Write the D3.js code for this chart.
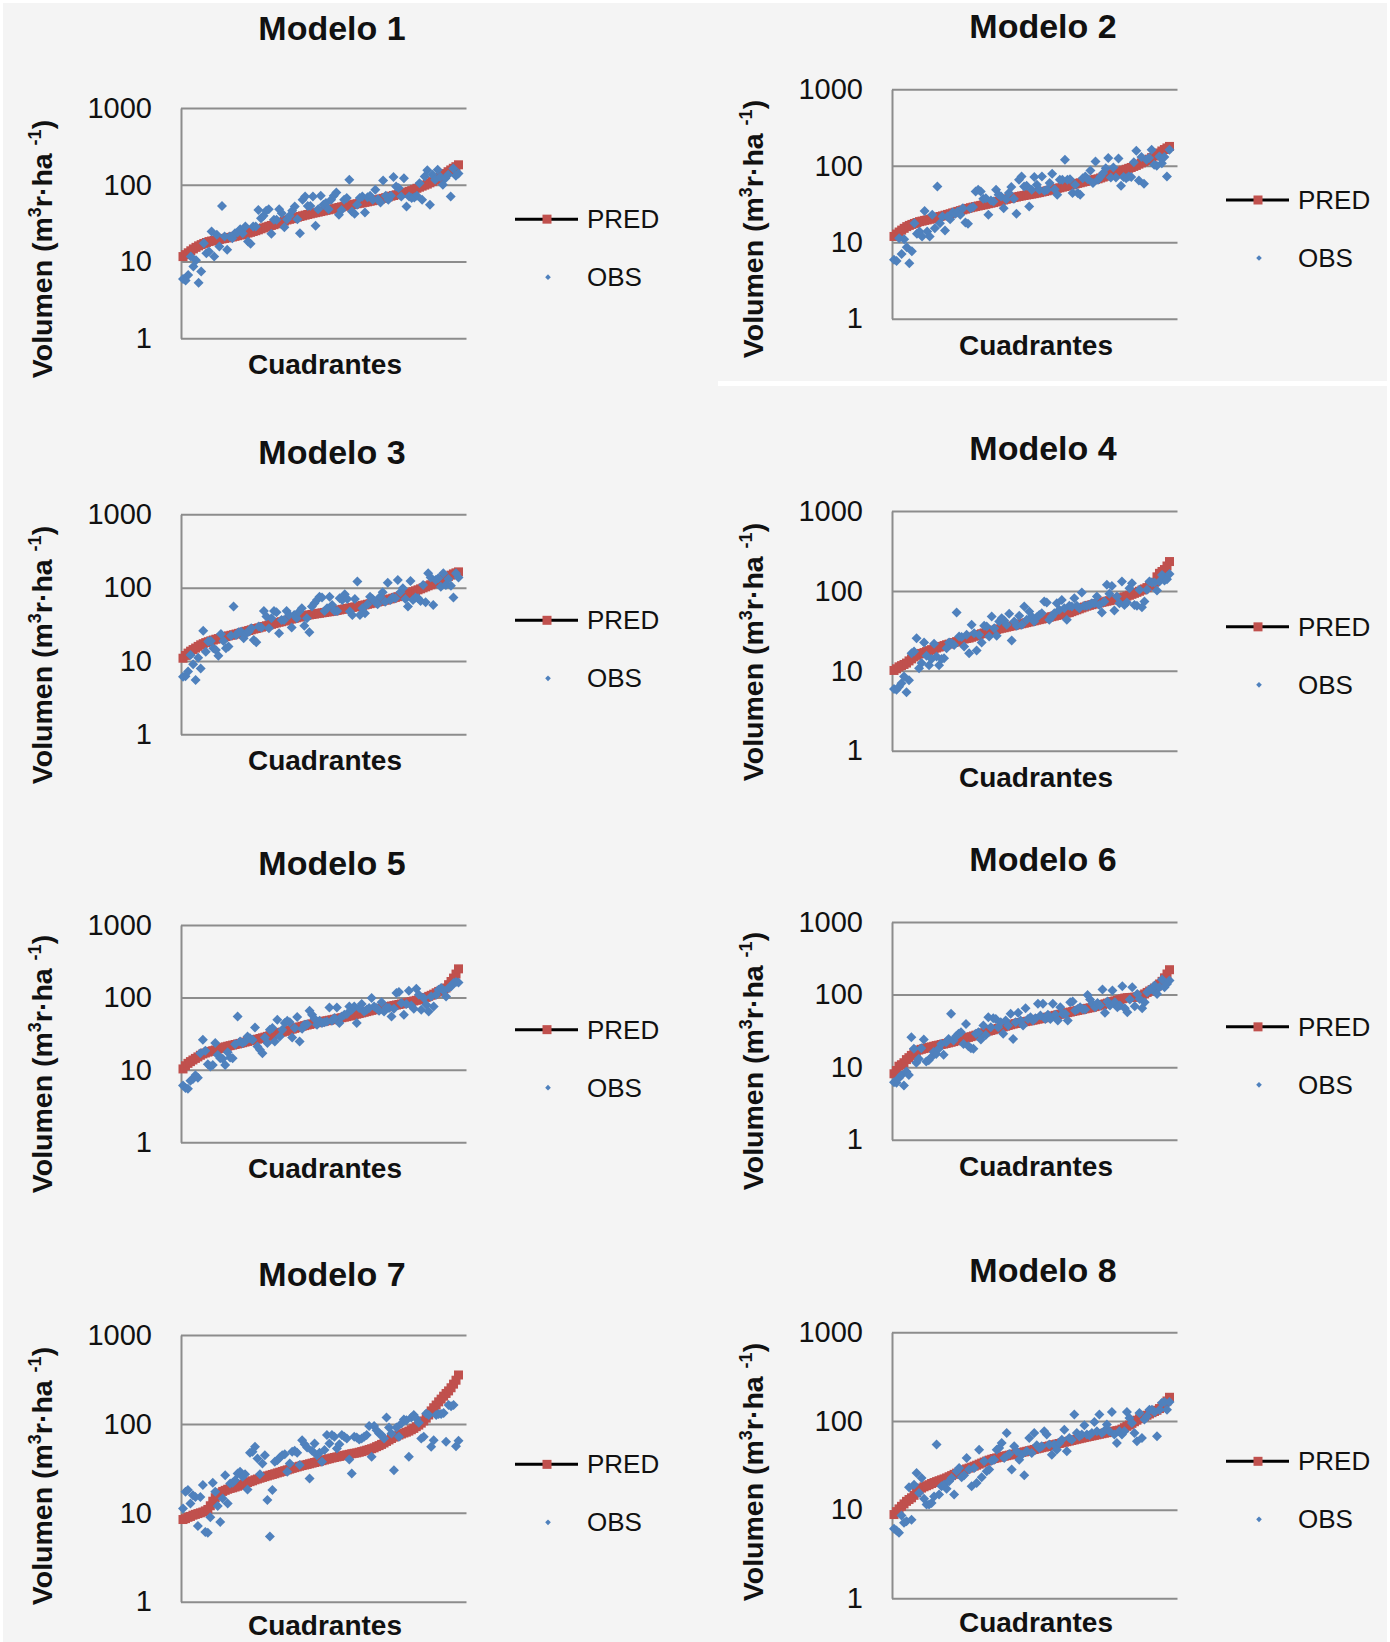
<!DOCTYPE html>
<html>
<head>
<meta charset="utf-8">
<script src="https://cdn.jsdelivr.net/npm/d3@7"></script>
<style>
  body { margin: 0; background: #f4f4f4; }
  svg { display: block; }
  text { font-family: "Liberation Sans", Arial, sans-serif; fill: #111; }
</style>
</head>
<body>
<svg id="chart" width="1390" height="1642"></svg>
<script>
// textos
const titles = ["Modelo 1", "Modelo 2", "Modelo 3", "Modelo 4", "Modelo 5", "Modelo 6", "Modelo 7", "Modelo 8"];
const yTicks = [1, 10, 100, 1000];
const seriesNames = ["PRED", "OBS"];
const xTitle = "Cuadrantes";

// valores (m3r/ha)
const pred1 = [11.6,12.3,13.0,13.8,14.6,15.3,16.0,16.6,17.2,17.7,18.2,18.5,18.8,19.1,19.4,19.7,20.0,20.3,20.6,20.9,21.3,21.7,22.1,22.5,23.0,23.5,24.0,24.6,25.2,25.9,26.7,27.4,28.1,28.8,29.5,30.2,31.0,31.8,32.6,33.6,34.8,35.5,36.2,37.0,37.8,38.6,39.4,40.2,41.0,41.8,42.6,43.3,44.0,44.8,45.6,46.4,47.2,48.0,48.8,49.7,50.6,51.5,52.4,53.3,54.2,55.0,55.8,56.6,57.4,58.2,59,60,61,62,63,64,65.2,66.5,68,69.5,71,72.5,74,75.5,77,78.5,80,82,84,87,90,93,96,99,102,106,110,115,120,126,132,140,148,156,164,172,182];
const obs1 = [5.9,5.65,6.7,11.6,8.6,10.4,5.3,7.4,17.3,12.8,13.5,24.6,11.6,22.3,15.7,53,21.2,14.2,21.2,20.1,23.4,23.9,26.4,23.4,28.6,18.2,17.0,28.6,28.6,47,36.7,39.4,46,48,23,34.9,34.9,48,42.7,28,35.6,39.4,46,52,35.6,23.4,63.7,70.4,53,53,70.4,29.2,48,71.9,54.8,58,48,63.7,71.9,79.4,40.6,47,63.7,67,116,44.9,41.9,54.8,67,70.4,43.5,69,71.9,63.7,86,65,58.9,114,71.9,63.7,71.9,126,95,90.5,70.4,122,52,70.4,67,68,71.9,105,63.7,128,154,55,135,116,157,126,100,122,135,70.4,163,131,140];

const pred2 = [11.9,12.8,13.6,14.4,15.2,16.0,16.6,17.1,17.6,18.1,18.6,18.9,19.3,19.6,20.0,20.3,20.8,21.2,21.7,22.1,22.6,23.1,23.6,24.2,24.7,25.3,25.9,26.5,27.1,27.7,28.3,28.8,29.3,29.8,30.3,30.8,31.3,31.9,32.4,33.0,33.6,34.3,35.0,35.7,36.4,37.2,37.8,38.4,39.0,39.7,40.3,40.9,41.5,42.0,42.6,43.2,43.9,44.6,45.4,46.2,47.0,47.9,48.8,49.7,50.6,51.5,52.5,53.5,54.5,55.5,56.6,57.7,58.8,59.9,61.1,62.3,63.3,64.3,65.4,66.4,67.5,69.3,71.1,73.0,75.0,77.0,79.0,81.0,83.1,85.3,87.5,90,92.5,95,98,101,105,109,113,117,122,128,134,140,147,156,163,171,179];
const obs2 = [5.9,5.7,11.3,7.0,10.9,8.6,5.3,7.6,17.7,12.9,13.8,11.9,25.7,13.8,11.9,22.8,15.2,53.6,17.7,21.7,14.2,21.7,20,24.5,23.5,25.2,22.8,27.9,18.1,17.4,27.9,28.8,46.1,48.5,46.1,37,37.7,22.8,35.2,34.1,48.5,41.7,39.6,27.9,36.6,43.9,52.6,37,23.5,65.6,72.5,53.6,54.7,29.3,48.5,71.1,56.4,48.5,72.5,47,48.5,59.3,78.5,49.4,41.7,65.6,65.6,120,65.6,66.8,43.9,56.4,43.9,41.7,68.9,72.5,66.8,86.9,59.3,114,65.6,72.5,80.2,93,126,70.3,95,70.3,124,54.7,71.1,68.9,72.5,71.1,111,157,64.3,130,58,120,126,162,103,100,132,108,130,72.5,162];

const pred3 = [10.9,11.9,12.8,13.6,14.3,15.0,15.8,16.6,17.2,17.8,18.3,18.8,19.3,19.8,20.2,20.6,21.0,21.5,22.0,22.4,22.8,23.3,23.8,24.3,24.8,25.4,26.0,26.6,27.2,27.7,28.3,28.9,29.5,30.2,30.9,31.6,32.3,33.0,33.7,34.3,35.0,35.7,36.5,37.3,38.0,38.8,39.6,40.4,41.2,41.8,42.5,43.1,43.6,44.2,44.7,45.3,45.9,46.5,47.0,47.6,48.2,48.9,49.7,50.5,51.3,52.1,52.9,53.7,54.6,55.4,56.2,57.2,58.2,59.3,60.4,61.5,62.6,63.8,65.0,66.1,67.3,68.7,70.2,71.8,73.5,75.3,77.2,79.2,81.2,83.3,85.4,88,90.6,93.4,96.3,99.3,102.5,106,109.5,113,117,122,127,132,137,142,148,154,159,164];
const obs3 = [6.1,6.2,7.2,12.1,9.0,5.5,11.1,7.9,25.9,13.4,18.4,18.7,14.9,14.1,11.8,23.3,18.7,14.9,15.7,22.1,55.1,22.6,24.6,25.1,20.4,23.8,25.1,27.9,19.3,18,29.4,28.5,48.1,40.3,27.9,38.2,48.1,46.1,23.8,36.2,36.2,48.1,42.4,28.5,42.4,38.2,47.1,52.3,30.3,38.2,24.6,55.1,61.1,67.9,75.4,73.1,48.1,52.3,75.4,58,48.1,48.1,71.6,67.9,81.1,70,47.1,42.4,70,121,42.4,52.3,44.7,59.3,75.4,70,64.4,59.3,75.4,86.3,64.4,117,67.9,73.1,71.6,127,86.3,97.9,70,55.1,123,67.9,73.1,71.6,65.8,109,63.1,157,137,58,127,134,103,157,109,131,106,73.1,157,137];

const pred4 = [10.1,10.6,11.2,11.6,12.0,12.5,13.3,14.1,14.9,15.6,16.2,16.5,16.9,17.4,17.9,18.4,18.9,19.3,19.8,20.2,20.7,21.2,21.6,22.1,22.6,23.2,23.8,24.4,25.0,25.4,25.7,26.3,27.0,27.7,28.4,29.1,29.8,30.5,31.2,31.8,32.3,32.9,33.5,34.1,34.6,35.2,35.8,36.4,37.0,37.6,38.2,38.8,39.4,40.1,40.8,41.5,42.2,43.0,43.7,44.4,45.2,46.0,46.8,47.6,48.4,49.3,50.2,51.1,52.0,52.8,53.5,55.0,56.5,58.0,59.6,61.2,62.8,64.4,65.9,67.2,68.5,69.6,70.7,71.9,73.1,74.3,75.5,76.7,78.0,79.3,80.6,82.2,84.0,86.0,88.2,90.6,93.2,96.0,99.0,102.5,106,110,115,120,128,150,166,175,185,205,233];
const obs4 = [5.9,5.8,6.3,7.0,8.5,5.4,7.6,16.6,17.4,25.6,10.8,12.5,22.6,15.4,11.7,14.0,21.8,15.1,11.7,14.0,14.4,19.2,22.6,22.2,21.1,53.6,26.9,26.4,20.1,28.2,16.6,37.6,29.6,18,28.2,22.6,36.5,35.8,26.9,47.8,34.1,27.4,41.4,45.5,42.6,37.6,51.6,23.9,41.4,36.5,48.7,37.6,63.7,43.4,55.2,47.8,41.4,46.9,50.1,52.6,73.6,71.5,43.4,47.8,52.6,70.1,57.9,77.2,60.7,43.4,65,63.7,81,65,60.7,95.3,65,65,66.8,70.1,70.1,84.9,66.8,53.6,73.6,119,91.8,115,56.7,84.9,70.1,131,66.8,71.5,108,125,66.8,65,103,62.5,73.6,103,131,127,127,101,131,158,135,140,163];

const pred5 = [10.3,11.4,12.3,13.0,13.7,14.4,15.1,15.9,16.6,17.1,17.6,18.0,18.4,18.8,19.3,19.8,20.3,20.8,21.2,21.6,22.0,22.4,22.8,23.2,23.7,24.2,24.7,25.2,25.7,26.1,26.5,27.1,27.7,28.3,29.0,29.7,30.5,31.3,32.2,32.7,33.2,34.0,34.8,35.6,36.5,37.4,38.3,39.2,40.0,40.8,41.6,42.4,43.2,44.0,44.8,45.6,46.3,47.0,47.7,48.4,49.2,50.0,50.8,51.6,52.5,53.4,54.3,55.3,56.4,57.5,58.7,59.9,61.1,62.4,63.7,65.0,66.3,67.6,68.9,70.0,71.1,72.4,73.7,74.9,76.1,77.3,78.6,79.9,81.3,82.7,84.2,85.8,87.5,89.3,91.2,93.1,95.2,97.5,100,103.5,107,111,116,121,125,129,135,150,166,185,210,248];
const obs5 = [6.1,5.6,5.5,7.1,7.5,8.4,7.8,17,26,18.3,12,11.1,11.7,23.4,16.1,14.5,14.2,11.7,17.5,14.8,14.5,22.6,54.6,24.7,23.4,24.7,28.9,27.4,26,38.5,21,18.9,17,28,23.4,35.7,37.7,24.7,49.1,28.9,35.7,44.2,47.5,45.6,28,37.7,53.5,24.7,36.9,41.9,42.8,65.5,57.5,50.7,41.9,47.5,44.2,45.6,46.6,72.8,47.5,51.8,72.8,44.2,54.6,57.5,58.9,75.2,67.5,75.2,44.2,71.3,80.9,64,67.5,71.3,97.9,75.2,71.3,65.5,86.1,64,72.8,71.3,54.6,69.7,115,119,83.5,57.5,80.9,124,77.5,69.7,132,109,67.5,97.9,79.3,64,103,75.2,109,128,135,124,103,135,142,158,163,161];

const pred6 = [8.1,9.0,10.3,10.8,11.5,12.7,13.5,14.5,15.6,16.5,17.2,17.6,18.0,18.3,18.7,19.0,19.4,19.8,20.1,20.5,20.8,21.2,21.6,22.0,22.5,23.0,23.5,24.1,24.6,25.2,25.7,26.3,26.9,27.6,28.3,29.0,29.8,30.6,31.4,32.0,32.7,33.5,34.2,35.0,35.8,36.6,37.5,38.4,39.2,39.9,40.6,41.2,41.8,42.4,43.0,43.6,44.3,45.0,45.8,46.5,47.3,48.1,49.0,49.9,50.8,51.7,52.6,53.5,54.5,55.4,56.4,57.4,58.4,59.4,60.4,61.4,62.5,63.6,64.6,65.7,66.8,68.2,69.7,71.2,72.8,74.5,76.3,78.2,80.1,81.8,83.5,85.5,87.5,89.5,90.5,91,91.5,92,93,95,98,102,107,112,117,123,130,140,152,170,192,220];
const obs6 = [6.2,6.1,7.1,7.7,5.6,8.7,7.8,25.9,17.9,11.5,13,18.2,24,12,12.4,13.7,16.1,15.2,17.9,20.9,14.8,22.1,24.5,54.2,23.3,26.7,28.8,30.3,20.9,39.4,19.4,18.2,17.9,28.8,30.3,24,37.4,27.8,48.8,35.5,47.2,46.2,35.5,41.6,28.8,43.9,37.4,54.2,24.5,41.6,56,43.9,37.4,64.9,46.2,48.8,43.9,47.2,74.5,51.4,74.5,46.2,52.5,46.2,74.5,52.5,43.9,67,54.2,54.2,43.9,78.3,80.1,60.3,63.5,67,63.5,62.2,98.9,85.3,74.5,67,76.7,70.6,117,56,80.1,70.6,114,78.3,67,70.6,130,64.9,57.1,85.3,126,69,102,87.1,64.9,78.3,108,117,117,133,102,126,161,126,140,156];

const pred7 = [8.4,8.6,8.9,9.1,9.4,9.6,9.8,10.0,10.2,10.5,10.9,12.0,13.5,14.8,15.8,16.7,17.4,17.9,18.4,18.8,19.1,19.5,19.9,20.4,20.9,21.4,21.9,22.4,22.9,23.5,24.0,24.5,25.0,25.5,26.0,26.5,27.0,27.5,28.1,28.6,29.2,29.8,30.4,31.0,31.6,32.2,32.8,33.4,34.0,34.5,35.0,35.6,36.2,36.8,37.4,38.0,38.6,39.3,40.0,40.6,41.3,41.9,42.5,43.1,43.7,44.3,44.9,45.5,46.2,46.7,47.2,48.0,48.8,49.7,50.6,51.6,52.6,53.8,55.5,57.0,58.8,61,63.5,66,68.5,71,73,75,77,79,80.7,83,86,89,93,97,102,108,116,126,140,152,163,177,190,205,220,235,255,280,310,355];
const obs7 = [11.2,17.2,18,12.7,15.8,15.1,7.1,15.1,20.5,6.1,5.96,8.9,21.8,17.2,11.9,7.9,14.5,26.5,12.7,21.4,21.8,23.3,27.7,28.9,25.4,27.2,18.3,47.3,48.5,55.2,40.8,27.2,35.9,44.5,13.9,5.4,18,37.5,39.1,41.9,44.5,45.7,28.9,35.9,48.5,49.8,47.3,34.4,65.6,59.2,54.3,24.3,49.8,60.2,44.5,47.3,37.5,50.7,74.8,60.2,74.8,71.6,52.9,59.2,74.8,71.6,68.6,39.8,27.7,71.6,70.3,66.8,68.6,71.6,74.8,94.4,42.7,94.4,85.1,78,74.8,68.6,118,91.2,78,30.2,91.2,71.6,101,112,110,42.7,118,126,115,103,68.6,71.6,131,126,55.2,65.6,126,129,129,133,62.9,163,158,163,56.2,64.6];

const pred8 = [8.8,9.5,10.2,10.9,11.6,12.4,13.0,13.6,14.5,15.6,16.8,17.5,18.1,18.6,19.1,19.7,20.2,20.7,21.2,21.7,22.2,22.8,23.5,24.2,25.0,25.8,26.6,27.4,28.1,28.8,29.4,30.1,30.9,31.7,32.6,33.5,34.4,35.3,36.2,37.0,37.7,38.3,38.9,39.5,40.0,40.6,41.2,41.8,42.4,43.0,43.6,44.2,44.8,45.5,46.2,46.9,47.7,48.5,49.2,50.0,50.7,51.5,52.3,53.1,54.0,54.9,55.7,56.6,57.5,58.4,59.3,60.2,61.2,62.2,63.1,64.0,65.0,65.9,66.9,67.8,68.8,69.8,70.8,71.8,72.8,73.8,74.8,75.8,76.8,77.8,78.8,81,84,87,90,94,98,102,106,109,112,116,120,124,128,132,138,146,155,168,185];
const obs8 = [6.1,5.8,5.5,8.6,7.1,7.4,17.9,7.7,19.1,25.9,15.4,22.8,13.3,11.4,11.4,11.9,14.1,54.1,14.8,18.3,19.1,17.2,20.9,22.8,14.8,27.1,29.5,23.2,24.4,38.3,28.3,18.3,29.5,20,47.5,23.2,35.1,27.1,28.3,35.7,36.6,47.5,49.6,56.5,38.3,73.3,42.5,28.3,51.8,45.5,36.6,41.7,24.4,45.5,64.3,43.6,73.3,53.2,49.6,51.8,76.4,70.2,54.1,41.7,54.1,47.5,56.5,61.5,79.8,45.5,64.3,61.5,118,73.3,67.1,70.2,89.3,70.2,68.9,73.3,97.5,76.4,118,73.3,77.8,91,76.4,126,70.2,56.5,76.4,70.2,76.4,126,108,94.9,73.3,59,123,64.3,104,113,134,134,126,67.1,134,160,164,134,164];

const predSeries = [pred1, pred2, pred3, pred4, pred5, pred6, pred7, pred8];
const obsSeries = [obs1, obs2, obs3, obs4, obs5, obs6, obs7, obs8];

// posicion de cada grafico en la pagina
const layout = [
  { left: 181, top: 108, bottom: 338.3, titleY: 28, labelY: 249, xLabelDy: 36 },
  { left: 892, top: 89.3, bottom: 318.7, titleY: 26, labelY: 229, xLabelDy: 36 },
  { left: 181, top: 514.3, bottom: 734.3, titleY: 452, labelY: 655, xLabelDy: 36 },
  { left: 892, top: 511, bottom: 750.7, titleY: 448, labelY: 652, xLabelDy: 36 },
  { left: 181, top: 925, bottom: 1142.3, titleY: 863, labelY: 1064, xLabelDy: 36 },
  { left: 892, top: 922, bottom: 1139.7, titleY: 859, labelY: 1061, xLabelDy: 36 },
  { left: 181, top: 1335, bottom: 1601.7, titleY: 1274, labelY: 1476, xLabelDy: 33 },
  { left: 892, top: 1332.3, bottom: 1598.3, titleY: 1270.5, labelY: 1472, xLabelDy: 34 }
];
const plotW = 285.5;
const RED = "#c0504d", BLUE = "#4f81bd", GRID = "#8c8c8c";

const svg = d3.select("#chart");

// franjas blancas entre las imagenes
svg.append("rect").attr("x", 0).attr("y", 0).attr("width", 1390).attr("height", 3).attr("fill", "#fff");
svg.append("rect").attr("x", 0).attr("y", 0).attr("width", 3).attr("height", 1642).attr("fill", "#fff");
svg.append("rect").attr("x", 1387).attr("y", 0).attr("width", 3).attr("height", 1642).attr("fill", "#fff");
svg.append("rect").attr("x", 718).attr("y", 381).attr("width", 672).attr("height", 5).attr("fill", "#fff");

const diamond = size => d3.symbol().type(d3.symbolSquare).size(size);

layout.forEach((p, k) => {
  const pred = predSeries[k];
  const obs = obsSeries[k];
  const n = Math.max(pred.length, obs.length);
  const g = svg.append("g");

  const x = d3.scaleLinear().domain([0, n - 1]).range([p.left + 2, p.left + plotW - 8]);
  const y = d3.scaleLog().domain([1, 1000]).range([p.bottom, p.top]);

  // lineas de cuadricula
  const grid = g.append("g")
    .attr("transform", `translate(${p.left},0)`)
    .call(d3.axisLeft(y).tickValues(yTicks).tickSize(-plotW).tickFormat(""));
  grid.select(".domain").remove();
  grid.selectAll(".tick line").attr("stroke", GRID).attr("stroke-width", 2);

  // eje y con etiquetas
  const ax = g.append("g")
    .attr("transform", `translate(${p.left},0)`)
    .call(d3.axisLeft(y).tickValues(yTicks).tickSize(0).tickPadding(29).tickFormat(d3.format("d")));
  ax.select(".domain").attr("stroke", GRID).attr("stroke-width", 2);
  ax.selectAll(".tick text")
    .style("font-family", '"Liberation Sans", Arial, sans-serif')
    .style("font-size", "29px").attr("fill", "#111");

  // PRED: linea negra con cuadros rojos
  g.append("path")
    .datum(pred)
    .attr("fill", "none")
    .attr("stroke", "#000")
    .attr("stroke-width", 2)
    .attr("d", d3.line().x((d, i) => x(i)).y(d => y(d)));

  g.selectAll(".pred")
    .data(pred)
    .join("rect")
    .attr("class", "pred")
    .attr("x", (d, i) => x(i) - 4.5)
    .attr("y", d => y(d) - 4.5)
    .attr("width", 9)
    .attr("height", 9)
    .attr("fill", RED);

  // OBS: rombos azules
  g.selectAll(".obs")
    .data(obs)
    .join("path")
    .attr("class", "obs")
    .attr("d", diamond(50))
    .attr("transform", (d, i) => `translate(${x(i)},${y(d)}) rotate(45)`)
    .attr("fill", BLUE);

  // titulo
  g.append("text")
    .attr("x", p.left + 151)
    .attr("y", p.titleY)
    .attr("dy", "0.35em")
    .attr("text-anchor", "middle")
    .style("font-size", "34px")
    .style("font-weight", "bold")
    .text(titles[k]);

  // titulo eje x
  g.append("text")
    .attr("x", p.left + 144)
    .attr("y", p.bottom + p.xLabelDy)
    .attr("text-anchor", "middle")
    .style("font-size", "28px")
    .style("font-weight", "bold")
    .text(xTitle);

  // titulo eje y
  const yl = g.append("text")
    .attr("transform", `translate(${p.left - 129},${p.labelY}) rotate(-90)`)
    .attr("text-anchor", "middle")
    .style("font-size", "28.5px")
    .style("font-weight", "bold");
  yl.append("tspan").text("Volumen (m");
  yl.append("tspan").attr("dy", -11).style("font-size", "18px").text("3");
  yl.append("tspan").attr("dy", 11).text("r·ha ");
  yl.append("tspan").attr("dy", -11).style("font-size", "18px").text("-1");
  yl.append("tspan").attr("dy", 11).text(")");

  // leyenda
  const mid = (p.top + p.bottom) / 2;
  const lx = p.left + 334;
  const leg = g.append("g");
  leg.append("line")
    .attr("x1", lx).attr("x2", lx + 63)
    .attr("y1", mid - 4).attr("y2", mid - 4)
    .attr("stroke", "#000").attr("stroke-width", 3);
  leg.append("rect")
    .attr("x", lx + 27.5).attr("y", mid - 8.5)
    .attr("width", 9).attr("height", 9)
    .attr("fill", RED);
  leg.append("text")
    .attr("x", lx + 72).attr("y", mid - 4).attr("dy", "0.35em")
    .style("font-size", "26px")
    .text(seriesNames[0]);
  leg.append("path")
    .attr("d", diamond(16))
    .attr("transform", `translate(${lx + 33},${mid + 54}) rotate(45)`)
    .attr("fill", BLUE);
  leg.append("text")
    .attr("x", lx + 72).attr("y", mid + 54).attr("dy", "0.35em")
    .style("font-size", "26px")
    .text(seriesNames[1]);
});
</script>
</body>
</html>
